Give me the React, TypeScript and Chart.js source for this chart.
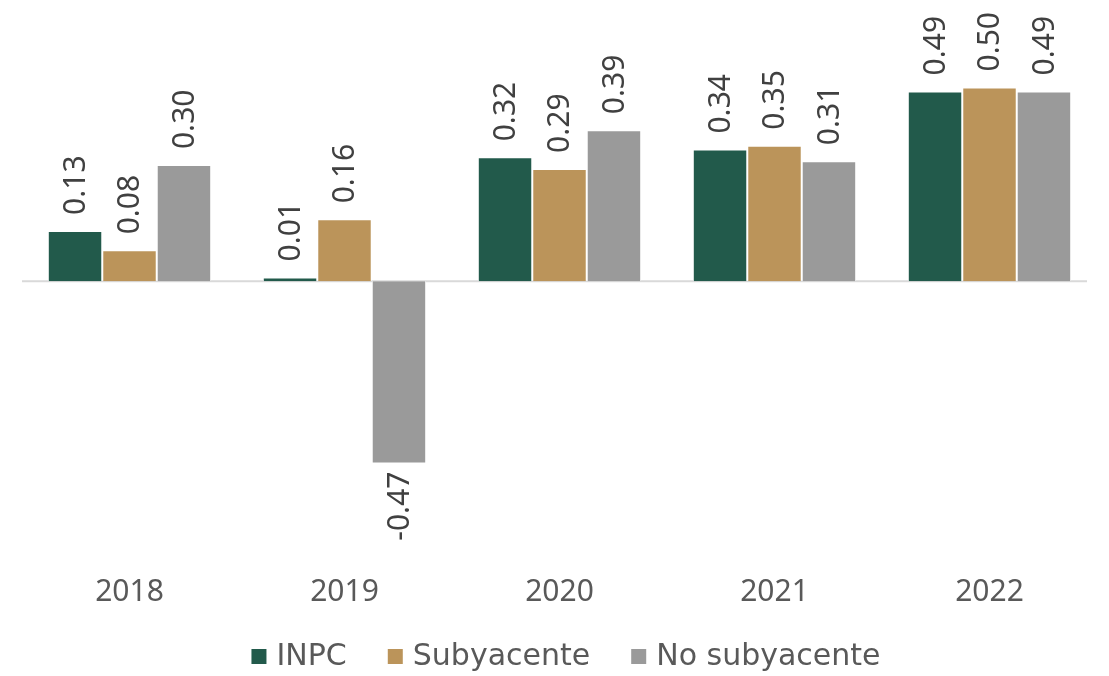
import React, { useEffect, useRef } from "react";
import { Chart, registerables } from "chart.js";

Chart.register(...registerables);

const categories = ["2018", "2019", "2020", "2021", "2022"];
const inpc = [0.13, 0.01, 0.32, 0.34, 0.49];
const subyacente = [0.08, 0.16, 0.29, 0.35, 0.5];
const noSubyacente = [0.3, -0.47, 0.39, 0.31, 0.49];
const seriesNames = ["INPC", "Subyacente", "No subyacente"];
const seriesColors = ["#225a4b", "#bb945a", "#9a9a9a"];

const FONT = "'Noto Sans', sans-serif";
const LEGEND_FONT = "'DejaVu Sans', sans-serif";

const zeroLinePlugin = {
  id: "zeroLine",
  beforeDatasetsDraw(chart: any) {
    const ctx = chart.ctx;
    const y = chart.scales.y.getPixelForValue(0);
    ctx.save();
    ctx.strokeStyle = "#d9d9d9";
    ctx.lineWidth = 2;
    ctx.beginPath();
    ctx.moveTo(chart.chartArea.left, y);
    ctx.lineTo(chart.chartArea.right - 10, y);
    ctx.stroke();
    ctx.restore();
  },
};

const labelPlugin = {
  id: "rotLabels",
  afterDatasetsDraw(chart: any) {
    const ctx = chart.ctx;
    ctx.save();
    ctx.font = `30px ${FONT}`;
    ctx.fillStyle = "#404040";
    chart.data.datasets.forEach((ds: any, di: number) => {
      const meta = chart.getDatasetMeta(di);
      meta.data.forEach((bar: any, i: number) => {
        const v = ds.data[i] as number;
        const txt = v.toFixed(2);
        ctx.save();
        if (v >= 0) {
          ctx.translate(bar.x, bar.y - 16);
          ctx.rotate(-Math.PI / 2);
          ctx.textAlign = "left";
        } else {
          ctx.translate(bar.x, bar.y + 8);
          ctx.rotate(-Math.PI / 2);
          ctx.textAlign = "right";
        }
        ctx.textBaseline = "middle";
        ctx.fillText(txt, 0, 1);
        ctx.restore();
      });
    });
    ctx.restore();
  },
};

const legendPlugin = {
  id: "customLegend",
  afterDraw(chart: any) {
    const ctx = chart.ctx;
    ctx.save();
    ctx.font = `30px ${LEGEND_FONT}`;
    const box = 15;
    const gapBox = 10;
    const gapItem = 41;
    const widths = seriesNames.map((n) => ctx.measureText(n).width);
    const total = widths.reduce((a, w) => a + box + gapBox + w, 0) + gapItem * (seriesNames.length - 1);
    let x = 566 - total / 2;
    const baseline = 665;
    seriesNames.forEach((n, i) => {
      ctx.fillStyle = seriesColors[i];
      ctx.fillRect(x, 649, box, box);
      x += box + gapBox;
      ctx.fillStyle = "#595959";
      ctx.textBaseline = "alphabetic";
      ctx.textAlign = "left";
      ctx.fillText(n, x, baseline);
      x += widths[i] + gapItem;
    });
    ctx.restore();
  },
};

export default function App() {
  const ref = useRef<HTMLCanvasElement>(null);
  useEffect(() => {
    document.body.style.margin = "0";
    const values = [inpc, subyacente, noSubyacente];
    const chart = new Chart(ref.current!, {
      type: "bar",
      data: {
        labels: categories,
        datasets: values.map((d, i) => ({
          label: seriesNames[i],
          data: d,
          backgroundColor: seriesColors[i],
          borderColor: "#ffffff",
          borderWidth: 1,
          categoryPercentage: 0.76,
          barPercentage: 1.0,
        })),
      },
      options: {
        animation: false,
        responsive: false,
        layout: { padding: { top: 10, left: 22, right: 12, bottom: 43 } },
        plugins: {
          legend: { display: false },
          tooltip: { enabled: false },
        },
        scales: {
          x: {
            grid: { display: false },
            border: { display: false },
            ticks: { font: { family: FONT, size: 30 }, color: "#595959", padding: 23 },
          },
          y: {
            min: -0.675,
            max: 0.7,
            ticks: { display: false },
            border: { display: false },
            grid: { display: false, drawTicks: false },
          },
        },
      },
      plugins: [zeroLinePlugin, labelPlugin, legendPlugin],
    });
    return () => chart.destroy();
  }, []);
  return <canvas ref={ref} width={1109} height={676} style={{ display: "block" }} />;
}
